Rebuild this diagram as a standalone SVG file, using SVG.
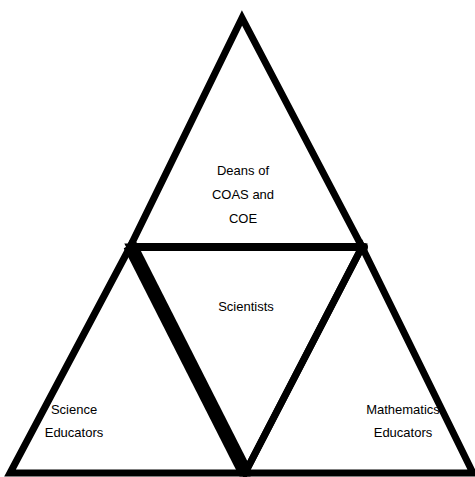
<svg xmlns="http://www.w3.org/2000/svg" width="475" height="477" viewBox="0 0 475 477">
  <style>
    .tri { fill: none; stroke: #000; stroke-width: 7; stroke-linejoin: miter; }
    .lbl { font-family: "Liberation Sans", Arial, sans-serif; font-size: 13px; fill: #000; text-anchor: middle; }
  </style>
  <rect width="475" height="477" fill="#fff"/>

  <!-- Top section -->
  <g id="deans">
    <polygon class="tri" points="242,18 130,247 362,247"/>
    <text class="lbl" x="243" y="175">Deans of</text>
    <text class="lbl" x="243" y="199">COAS and</text>
    <text class="lbl" x="243" y="223">COE</text>
  </g>

  <!-- Bottom-left section -->
  <g id="science-educators">
    <polygon class="tri" points="130,247 10,473 245,473"/>
    <text class="lbl" x="74" y="414">Science</text>
    <text class="lbl" x="74" y="437">Educators</text>
  </g>

  <!-- Bottom-right section -->
  <g id="mathematics-educators">
    <polygon class="tri" points="362,247 245,473 473,473"/>
    <text class="lbl" x="403" y="414">Mathematics</text>
    <text class="lbl" x="403" y="437">Educators</text>
  </g>

  <!-- Centre section -->
  <g id="scientists">
    <polygon class="tri" points="130,247 362,247 245,473"/>
    <text class="lbl" x="246" y="311">Scientists</text>
  </g>

  <!-- Emphasised edges -->
  <g id="connectors">
    <line x1="132" y1="247" x2="364" y2="247" stroke="#000" stroke-width="8" stroke-linecap="round"/>
    <line x1="130" y1="245" x2="243" y2="468" stroke="#000" stroke-width="14"/>
  </g>
</svg>
